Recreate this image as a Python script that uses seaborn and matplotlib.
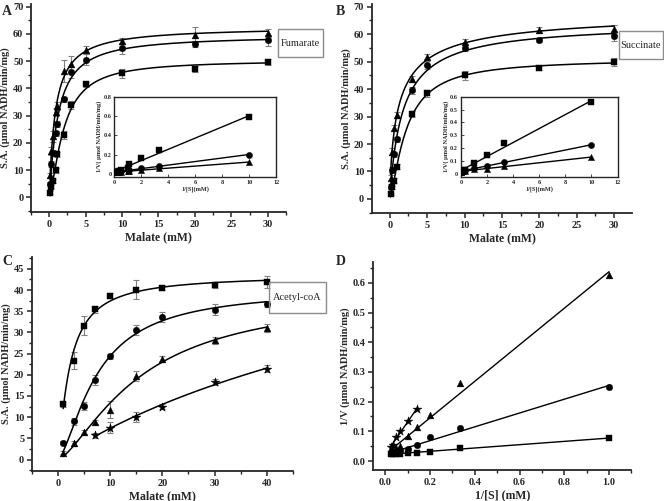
import numpy as np
import pandas as pd
import matplotlib
matplotlib.use('Agg')
import matplotlib.pyplot as plt
import seaborn as sns
from matplotlib.patches import Rectangle
from matplotlib.ticker import MultipleLocator, FormatStrFormatter

# ---- panel A : fumarate ----
malate_a = [0.1, 0.3, 0.5, 0.9, 1, 2, 3, 5, 10, 20, 30]
fum_sq = [1.7, 4.0, 6.0, 10.0, 15.8, 23.0, 34.0, 41.5, 45.5, 47.2, 49.7]
fum_ci = [5.0, 12.3, 16.5, 23.5, 27.0, 36.0, 46.0, 50.5, 54.7, 56.3, 57.7]
fum_tr = [8.3, 17.0, 22.5, 31.5, 33.5, 46.5, 49.0, 54.2, 57.5, 59.7, 60.5]
fum_sq_err = [0.5, 0.5, 0.8, 1, 1, 1.5, 1.5, 1, 1.5, 1, 1]
fum_ci_err = [0.8, 1, 1, 1, 1, 1, 2, 2, 2, 1, 2]
fum_tr_err = [0.8, 1.5, 2, 1.5, 1.5, 4, 3, 1.5, 1, 3, 1.5]

# ---- panel B : succinate ----
malate_b = [0.1, 0.3, 0.5, 1, 3, 5, 10, 20, 30]
suc_sq = [1.8, 4.2, 6.7, 11.8, 31.0, 38.5, 45.0, 47.7, 49.8]
suc_ci = [4.5, 10.6, 16.2, 21.7, 39.5, 48.7, 55.0, 57.8, 59.2]
suc_tr = [7.8, 17.2, 26.0, 30.5, 43.6, 51.8, 57.3, 61.6, 62.0]
suc_sq_err = [0.5, 0.5, 0.8, 1, 1, 1.2, 1.5, 0.8, 1.5]
suc_ci_err = [0.8, 1, 1, 1, 1.2, 1.5, 1, 0.8, 1.8]
suc_tr_err = [0.8, 1.2, 1, 1, 1, 1, 1, 1, 1.5]

# ---- panel C/D : acetyl-coA ----
malate_c = [1, 3, 5, 7, 10, 15, 20, 30, 40]
malate_star = [7, 10, 15, 20, 30, 40]
ac_sq = [13.0, 23.3, 31.6, 35.5, 38.7, 40.1, 40.6, 41.1, 41.9]
ac_ci = [4.0, 9.0, 12.6, 18.8, 24.4, 30.6, 33.7, 35.4, 36.6]
ac_tr = [1.6, 3.8, 6.5, 8.8, 11.8, 19.8, 23.7, 28.1, 31.0]
ac_st = [5.7, 7.5, 10.0, 12.5, 18.3, 21.4]
ac_sq_err = [0.5, 2, 2.2, 0.8, 0.6, 2.3, 0.5, 0.7, 1.3]
ac_ci_err = [0.4, 0.8, 1, 1.2, 0.6, 1.2, 1.2, 1.2, 0.7]
ac_tr_err = [0.4, 0.5, 0.5, 0.5, 2, 1.2, 0.8, 0.8, 1]
ac_st_err = [0.6, 1.3, 1.2, 0.6, 0.8, 0.8]

FONT = 'Liberation Serif'


def fit_hill(x, y):
    x = np.asarray(x, float)
    y = np.asarray(y, float)
    best = None
    for k in np.logspace(-2, 2, 161):
        for n in np.linspace(0.6, 4, 69):
            f = x ** n / (k ** n + x ** n)
            vmax = (f @ y) / (f @ f)
            err = ((vmax * f - y) ** 2).sum()
            if best is None or err < best[0]:
                best = (err, vmax, k, n)
    return best[1:]


def hill_curve(ax, x, y):
    vmax, k, n = fit_hill(x, y)
    xs = np.linspace(min(x), max(x), 300)
    ys = vmax * xs ** n / (k ** n + xs ** n)
    sns.lineplot(x=xs, y=ys, ax=ax, color='black', linewidth=1.1, zorder=2)


def line_fit(ax, x, y, lw=1.0):
    x = np.asarray(x, float)
    y = np.asarray(y, float)
    m, b = np.polyfit(x, y, 1)
    xs = np.array([x.min(), x.max()])
    sns.lineplot(x=xs, y=m * xs + b, ax=ax, color='black', linewidth=lw, zorder=2)


def points(ax, x, y, marker, size, err=None):
    if err is not None:
        ax.errorbar(x, y, yerr=err, fmt='none', ecolor='0.5', elinewidth=0.8,
                    capsize=2, capthick=0.8, zorder=1)
    sns.scatterplot(x=x, y=y, ax=ax, marker=marker, s=size, color='black',
                    edgecolor='black', linewidth=0.3, zorder=3)


def style_main(ax, xlabel, ylabel):
    sns.despine(ax=ax)
    for s in ['left', 'bottom']:
        ax.spines[s].set_linewidth(1.3)
    ax.tick_params(which='major', direction='out', length=3.5, width=1.1, labelsize=7.5, pad=2)
    ax.tick_params(which='minor', direction='out', length=2, width=1.0)
    for lab in ax.get_xticklabels() + ax.get_yticklabels():
        lab.set_fontweight('bold')
    ax.set_xlabel(xlabel, fontsize=8.5, fontweight='bold', labelpad=2)
    ax.set_ylabel(ylabel, fontsize=7.5, fontweight='bold', labelpad=2)


def style_inset(ax, xlabel, ylabel):
    for s in ax.spines.values():
        s.set_linewidth(1.0)
        s.set_visible(True)
    ax.tick_params(which='major', direction='in', length=2, width=0.6, labelsize=4.5, pad=2)
    for lab in ax.get_xticklabels() + ax.get_yticklabels():
        lab.set_fontweight('bold')
    ax.set_xlabel(xlabel, fontsize=4.5, fontweight='bold', labelpad=1)
    ax.set_ylabel(ylabel, fontsize=4.5, fontweight='bold', labelpad=1)


def label_box(fig, x, y, w, h, text):
    fig.patches.append(Rectangle((x, y), w, h, transform=fig.transFigure,
                                 fill=False, edgecolor='0.55', linewidth=1.0))
    fig.text(x + w / 2, y + h / 2, text, ha='center', va='center', fontsize=7.5)


def inv(vals):
    return [1.0 / v for v in vals]


def main():
    sns.set_style('ticks')
    plt.rcParams['font.family'] = [FONT, 'DejaVu Serif']

    fig = plt.figure(figsize=(6.64, 5.01), dpi=100)
    ylab = 'S.A. (\u00b5mol NADH/min/mg)'

    # panel A
    ax = fig.add_axes([0.0467, 0.577, 0.384, 0.415])
    for y, e, mk, sz in [(fum_sq, fum_sq_err, 's', 20), (fum_ci, fum_ci_err, 'o', 22),
                         (fum_tr, fum_tr_err, '^', 24)]:
        hill_curve(ax, malate_a, y)
        points(ax, malate_a, y, mk, sz, e)
    ax.set_xlim(-2.5, 32.5)
    ax.set_ylim(-5.3, 71)
    ax.xaxis.set_major_locator(MultipleLocator(5))
    ax.xaxis.set_minor_locator(MultipleLocator(2.5))
    ax.yaxis.set_major_locator(MultipleLocator(10))
    ax.yaxis.set_minor_locator(MultipleLocator(5))
    style_main(ax, 'Malate (mM)', ylab)

    axi = fig.add_axes([0.172, 0.647, 0.244, 0.160])
    for y, mk, sz in [(fum_sq, 's', 22), (fum_ci, 'o', 20), (fum_tr, '^', 20)]:
        line_fit(axi, inv(malate_a), inv(y))
        points(axi, inv(malate_a), inv(y), mk, sz)
    axi.set_xlim(0, 12)
    axi.set_ylim(-0.03, 0.8)
    axi.xaxis.set_major_locator(MultipleLocator(2))
    axi.set_yticks([0, 0.2, 0.4, 0.6, 0.8])
    axi.set_yticklabels(['0', '0.2', '0.4', '0.6', '0.8'])
    style_inset(axi, '1/[S](mM)', '1/V( \u00b5mol NADH/min/mg)')

    # panel B
    ax = fig.add_axes([0.560, 0.575, 0.392, 0.417])
    for y, e, mk, sz in [(suc_sq, suc_sq_err, 's', 20), (suc_ci, suc_ci_err, 'o', 22),
                         (suc_tr, suc_tr_err, '^', 24)]:
        hill_curve(ax, malate_b, y)
        points(ax, malate_b, y, mk, sz, e)
    ax.set_xlim(-2.4, 32.4)
    ax.set_ylim(-5.1, 71)
    ax.xaxis.set_major_locator(MultipleLocator(5))
    ax.xaxis.set_minor_locator(MultipleLocator(2.5))
    ax.yaxis.set_major_locator(MultipleLocator(10))
    ax.yaxis.set_minor_locator(MultipleLocator(5))
    style_main(ax, 'Malate (mM)', ylab)

    axi = fig.add_axes([0.694, 0.647, 0.236, 0.160])
    for y, mk, sz in [(suc_sq, 's', 22), (suc_ci, 'o', 20), (suc_tr, '^', 20)]:
        line_fit(axi, inv(malate_b), inv(y))
        points(axi, inv(malate_b), inv(y), mk, sz)
    axi.set_xlim(0, 12)
    axi.set_ylim(-0.025, 0.6)
    axi.xaxis.set_major_locator(MultipleLocator(2))
    axi.set_yticks([0, 0.1, 0.2, 0.3, 0.4, 0.5, 0.6])
    axi.set_yticklabels(['0', '0.1', '0.2', '0.3', '0.4', '0.5', '0.6'])
    style_inset(axi, '1/[S](mM)', '1/V( \u00b5mol NADH/min/mg)')

    # panel C
    ax = fig.add_axes([0.048, 0.060, 0.393, 0.427])
    series_c = [(malate_c, ac_sq, ac_sq_err, 's', 20), (malate_c, ac_ci, ac_ci_err, 'o', 22),
                (malate_c, ac_tr, ac_tr_err, '^', 24), (malate_star, ac_st, ac_st_err, '*', 45)]
    for x, y, e, mk, sz in series_c:
        hill_curve(ax, x, y)
        points(ax, x, y, mk, sz, e)
    ax.set_xlim(-5, 45)
    ax.set_ylim(-2.7, 47.8)
    ax.xaxis.set_major_locator(MultipleLocator(10))
    ax.xaxis.set_minor_locator(MultipleLocator(5))
    ax.yaxis.set_major_locator(MultipleLocator(5))
    ax.yaxis.set_minor_locator(MultipleLocator(2.5))
    style_main(ax, 'Malate (mM)', ylab)

    # panel D
    ax = fig.add_axes([0.562, 0.062, 0.389, 0.415])
    for x, y, e, mk, sz in series_c:
        line_fit(ax, inv(x), inv(y), lw=1.0)
        points(ax, inv(x), inv(y), mk, sz)
    ax.set_xlim(-0.054, 1.10)
    ax.set_ylim(-0.03, 0.67)
    ax.xaxis.set_major_locator(MultipleLocator(0.2))
    ax.xaxis.set_minor_locator(MultipleLocator(0.1))
    ax.yaxis.set_major_locator(MultipleLocator(0.1))
    ax.yaxis.set_minor_locator(MultipleLocator(0.05))
    ax.xaxis.set_major_formatter(FormatStrFormatter('%.1f'))
    ax.yaxis.set_major_formatter(FormatStrFormatter('%.1f'))
    style_main(ax, '1/[S] (mM)', '1/V (\u00b5mol NADH/min/mg)')

    # substrate boxes and panel letters
    label_box(fig, 0.4187, 0.886, 0.068, 0.056, 'Fumarate')
    label_box(fig, 0.932, 0.882, 0.066, 0.056, 'Succinate')
    label_box(fig, 0.405, 0.375, 0.086, 0.062, 'Acetyl-coA')
    for x, y, t in [(0.003, 0.977, 'A'), (0.505, 0.977, 'B'), (0.003, 0.479, 'C'), (0.505, 0.479, 'D')]:
        fig.text(x, y, t, fontsize=10, fontweight='bold', va='center')

    fig.savefig('out.png', dpi=100)
    plt.close()


if __name__ == '__main__':
    main()
